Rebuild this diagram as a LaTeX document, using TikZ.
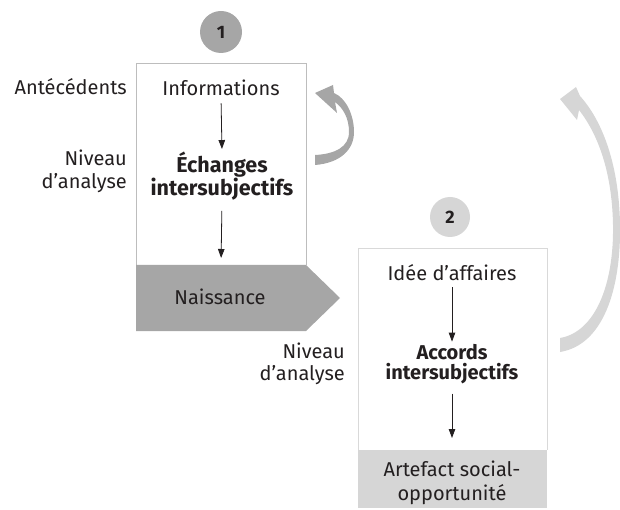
\documentclass[tikz,border=0pt]{standalone}
\usepackage{fontspec}
\setmainfont{Fira Sans}
\usetikzlibrary{arrows.meta}
\definecolor{dg}{HTML}{A6A6A6}
\definecolor{lg}{HTML}{D6D6D6}
\definecolor{bdone}{HTML}{BDBDBD}
\definecolor{bdtwo}{HTML}{D9D9D9}
\definecolor{ink}{HTML}{231F20}
\begin{document}
\begin{tikzpicture}[x=1pt,y=-1pt,
  txt/.style={font=\fontsize{20}{24}\selectfont, text=ink, align=center, inner sep=0pt, anchor=base},
  btxt/.style={txt, font=\fontsize{20}{20}\selectfont\bfseries},
  lbl/.style={txt, align=right, anchor=base east},
  arr/.style={draw=ink, -{Triangle[length=9pt,width=6.5pt]}, line width=0.8pt},
  num/.style={circle, minimum size=42pt, inner sep=0pt, text=ink, font=\fontsize{18}{18}\selectfont\bfseries}]
\useasboundingbox (0,0) rectangle (620,510);

% box 1
\fill[white] (136,64) rectangle (306,265);
\draw[bdone, line width=1pt] (136,265) -- (136,64) -- (306,64) -- (306,265);
\fill[dg] (136,265) -- (306,265) -- (340,298) -- (306,331) -- (136,331) -- cycle;
\coordinate (top1) at (221,265);

% box 2
\draw[bdtwo, line width=1pt] (358,450) -- (358,249) -- (547,249) -- (547,450);
\fill[lg] (358,450) rectangle (547,508);
\coordinate (top2) at (452,450);

% numbers
\node[num, fill=dg] (c1) at (221,32) {1};
\node[num, fill=lg, minimum size=40pt] (c2) at (450,217) {2};

% texts (base = baseline of last line)
\node[txt] (info) at (221,96) {Informations};
\node[btxt, font=\fontsize{21.5}{20}\selectfont\bfseries] (ech) at (222,196) {Échanges\\intersubjectifs};
\node[txt] (nais) at (220,304) {Naissance};
\node[txt] (idee) at (452,280) {Idée d’affaires};
\node[btxt] (acc) at (452,379) {Accords\\intersubjectifs};
\node[txt] (art) at (452,500) {Artefact social-\\opportunité};
\node[lbl] (ante) at (127,95) {Antécédents};
\node[lbl, font=\fontsize{20}{23}\selectfont] (niv1) at (127,189) {Niveau\\d’analyse};
\node[lbl, font=\fontsize{20}{22}\selectfont] (niv2) at (345,380) {Niveau\\d’analyse};

% arrows
\draw[arr, shorten <=7pt, shorten >=3pt] (info.south) -- (ech.north);
\draw[arr, shorten <=10pt, shorten >=7pt] (ech.south) -- (top1);
\draw[arr, shorten <=7pt, shorten >=2pt] (idee.south) -- (acc.north);
\draw[arr, shorten <=10pt, shorten >=12pt] (acc.south) -- (top2);

% small curved arrow
\fill[dg] (315,165) .. controls (340,163) and (354,150) .. (354,132)
  .. controls (354,115) and (346,98) .. (334,93)
  -- (333,85) -- (315,93) -- (337,113) -- (335,102)
  .. controls (343,108) and (349,118) .. (349,132)
  .. controls (349,147) and (335,154) .. (315,155) -- cycle;

% big curved arrow
\fill[lg] (560,352) .. controls (603,345) and (621,290) .. (620,225)
  .. controls (619,160) and (600,118) .. (580,96)
  -- (576,87) -- (560,99) -- (577,120) -- (579,110)
  .. controls (597,133) and (612,170) .. (613,225)
  .. controls (614,285) and (595,332) .. (560,338) -- cycle;
\end{tikzpicture}
\end{document}
